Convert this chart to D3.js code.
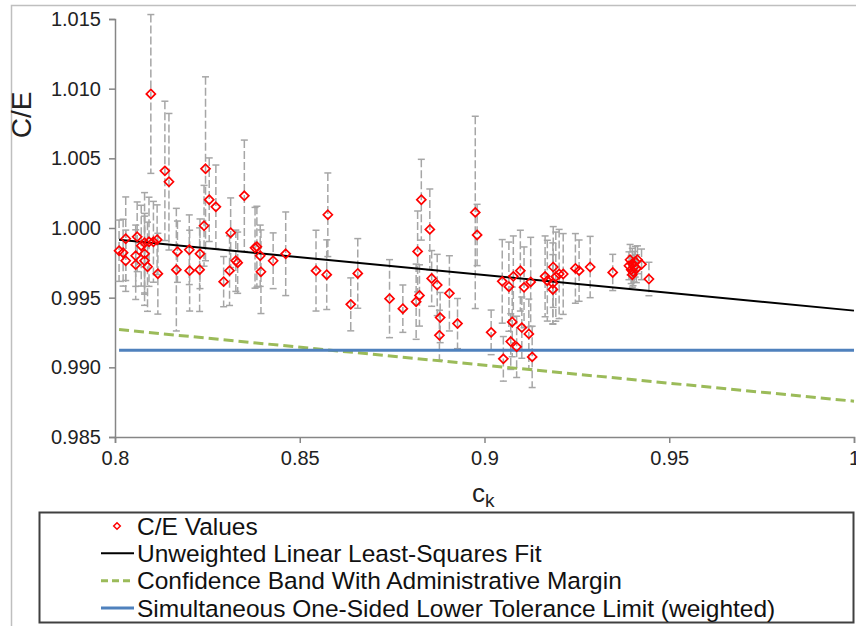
<!DOCTYPE html>
<html>
<head>
<meta charset="utf-8">
<script src="https://cdn.jsdelivr.net/npm/d3@7"></script>
<style>
  body { margin: 0; background: #fff; }
  svg { display: block; font-family: "Liberation Sans", Arial, sans-serif; }
</style>
</head>
<body>
<div id="chart"></div>
<script>
// data
const ckValues = [
  0.8011, 0.8022, 0.8029, 0.8029, 0.8056, 0.8056, 0.8060, 0.8071, 0.8080, 0.8080,
  0.8080, 0.8088, 0.8092, 0.8097, 0.8104, 0.8114, 0.8116, 0.8135, 0.8146, 0.8169,
  0.8166, 0.8201, 0.8202, 0.8229, 0.8230, 0.8241, 0.8245, 0.8255, 0.8273, 0.8294,
  0.8310, 0.8313, 0.8327, 0.8332, 0.8350, 0.8379, 0.8384, 0.8393, 0.8395, 0.8428,
  0.8462, 0.8544, 0.8576, 0.8573, 0.8638, 0.8657, 0.8743, 0.8779, 0.8815, 0.8824,
  0.8819, 0.8829, 0.8852, 0.8857, 0.8872, 0.8880, 0.8878, 0.8905, 0.8927, 0.8975,
  0.8980, 0.9018, 0.9048, 0.9051, 0.9066, 0.9071, 0.9075, 0.9078, 0.9087, 0.9097,
  0.9101, 0.9107, 0.9120, 0.9125, 0.9129, 0.9164, 0.9170, 0.9186, 0.9185, 0.9185,
  0.9193, 0.9202, 0.9213, 0.9246, 0.9256, 0.9286, 0.9347, 0.9394, 0.9400, 0.9405,
  0.9397, 0.9402, 0.9408, 0.9391, 0.9400, 0.9411, 0.9414, 0.9425, 0.9445
];
const ceValues = [
  0.99837, 0.99823, 0.99923, 0.99765, 0.99801, 0.99737, 0.99937, 0.99873, 0.99894, 0.99815,
  0.99765, 0.99722, 0.99901, 1.00962, 0.99901, 0.99916, 0.99672, 1.00410, 1.00332, 0.99830,
  0.99701, 0.99844, 0.99694, 0.99701, 0.99815, 1.00016, 1.00425, 1.00203, 1.00152, 0.99615,
  0.99694, 0.99966, 0.99765, 0.99751, 1.00231, 0.99858, 0.99866, 0.99801, 0.99686, 0.99765,
  0.99815, 0.99694, 1.00095, 0.99665, 0.99452, 0.99674, 0.99493, 0.99421, 0.99471, 0.99516,
  0.99832, 1.00203, 0.99990, 0.99638, 0.99591, 0.99357, 0.99230, 0.99531, 0.99314, 1.00112,
  0.99950, 0.99251, 0.99617, 0.99061, 0.99579, 0.99185, 0.99326, 0.99653, 0.99147, 0.99694,
  0.99285, 0.99574, 0.99240, 0.99613, 0.99075, 0.99653, 0.99622, 0.99720, 0.99603, 0.99559,
  0.99651, 0.99670, 0.99670, 0.99710, 0.99694, 0.99720, 0.99681, 0.99772, 0.99744, 0.99722,
  0.99701, 0.99686, 0.99758, 0.99729, 0.99665, 0.99708, 0.99772, 0.99739, 0.99634
];
const ceErrors = [
  0.0022, 0.0024, 0.0030, 0.0022, 0.0022, 0.0025, 0.0025, 0.0029, 0.0036, 0.0029,
  0.0032, 0.0032, 0.0032, 0.0057, 0.0029, 0.0025, 0.0029, 0.0050, 0.0049, 0.0022,
  0.0044, 0.0025, 0.0029, 0.0030, 0.0025, 0.0029, 0.0066, 0.0030, 0.0030, 0.0018,
  0.0025, 0.0025, 0.0022, 0.0022, 0.0040, 0.0029, 0.0029, 0.0022, 0.0030, 0.0020,
  0.0030, 0.0029, 0.0030, 0.0025, 0.0019, 0.0025, 0.0028, 0.0017, 0.0027, 0.0022,
  0.0029, 0.0029, 0.0029, 0.0020, 0.0022, 0.0018, 0.0018, 0.0027, 0.0018, 0.0069,
  0.0022, 0.0016, 0.0030, 0.0016, 0.0032, 0.0020, 0.0025, 0.0029, 0.0022, 0.0029,
  0.0022, 0.0029, 0.0025, 0.0032, 0.0022, 0.0029, 0.0029, 0.0029, 0.0029, 0.0025,
  0.0032, 0.0032, 0.0029, 0.0025, 0.0022, 0.0022, 0.0013, 0.0011, 0.0011, 0.0011,
  0.0010, 0.0010, 0.0011, 0.0010, 0.0009, 0.0010, 0.0010, 0.0011, 0.0012
];

// fitted lines: [ck, C/E] end points
const fitLine = [[0.8011, 0.99915], [1.0, 0.99407]];
const bandLine = [[0.8011, 0.99271], [1.0, 0.98757]];
const tolLine = [[0.8011, 0.99122], [1.0, 0.99122]];

const xTicks = [0.8, 0.85, 0.9, 0.95, 1];
const yTicks = [0.985, 0.99, 0.995, 1.0, 1.005, 1.01, 1.015];
const legendLabels = [
  'C/E Values',
  'Unweighted Linear Least-Squares Fit',
  'Confidence Band With Administrative Margin',
  'Simultaneous One-Sided Lower Tolerance Limit (weighted)'
];

const width = 856;
const height = 626;
const margin = { top: 19, left: 115, right: 2, bottom: 189 };
const axisGray = '#868686';
const red = '#FF0000';
const green = '#9BBB59';
const blue = '#4F81BD';

const svg = d3.select('#chart').append('svg')
  .attr('width', width)
  .attr('height', height);

// outer chart frame
svg.append('rect')
  .attr('x', 11.5).attr('y', 5.5)
  .attr('width', 900).attr('height', 700)
  .attr('fill', 'none')
  .attr('stroke', '#BFBFBF')
  .attr('stroke-width', 1.5);

const x = d3.scaleLinear().domain([0.8, 1]).range([margin.left, width - margin.right]);
const y = d3.scaleLinear().domain([0.985, 1.015]).range([height - margin.bottom, margin.top]);

// axes
const xAxis = svg.append('g')
  .attr('transform', `translate(0,${y(0.985)})`)
  .call(d3.axisBottom(x).tickValues(xTicks).tickSize(6).tickPadding(8).tickFormat(d => d3.format('')(d)));
const yAxis = svg.append('g')
  .attr('transform', `translate(${x(0.8)},0)`)
  .call(d3.axisLeft(y).tickValues(yTicks).tickSize(6).tickPadding(8).tickFormat(d3.format('.3f')));

[xAxis, yAxis].forEach(g => {
  g.select('.domain').attr('stroke', axisGray).attr('stroke-width', 1.5);
  g.selectAll('.tick line').attr('stroke', axisGray).attr('stroke-width', 1.5);
  g.selectAll('.tick text')
    .attr('fill', '#222')
    .style('font-size', '20px')
    .style('font-family', '"Liberation Sans", Arial, sans-serif');
});

// axis titles
svg.append('text')
  .attr('transform', `translate(31,115) rotate(-90)`)
  .attr('text-anchor', 'middle')
  .style('font-size', '28px')
  .attr('fill', '#222')
  .text('C/E');

const xTitle = svg.append('text')
  .attr('x', 472)
  .attr('y', 502)
  .style('font-size', '26px')
  .attr('fill', '#222');
xTitle.append('tspan').text('c');
xTitle.append('tspan').attr('dy', 5).style('font-size', '19px').text('k');

const points = ckValues.map((d, i) => ({ ck: d, ce: ceValues[i], err: ceErrors[i] }));

// error bars
const bars = svg.append('g').selectAll('g')
  .data(points)
  .enter().append('g')
  .attr('stroke', '#A6A6A6')
  .attr('stroke-width', 1.5);

bars.append('line')
  .attr('x1', d => x(d.ck)).attr('x2', d => x(d.ck))
  .attr('y1', d => y(d.ce + d.err)).attr('y2', d => y(d.ce - d.err))
  .attr('stroke-dasharray', '8,3');
bars.append('line')
  .attr('x1', d => x(d.ck) - 3.5).attr('x2', d => x(d.ck) + 3.5)
  .attr('y1', d => y(d.ce + d.err)).attr('y2', d => y(d.ce + d.err));
bars.append('line')
  .attr('x1', d => x(d.ck) - 3.5).attr('x2', d => x(d.ck) + 3.5)
  .attr('y1', d => y(d.ce - d.err)).attr('y2', d => y(d.ce - d.err));

// lines
const line = d3.line().x(d => x(d[0])).y(d => y(d[1]));

svg.append('path')
  .attr('d', line(bandLine))
  .attr('fill', 'none')
  .attr('stroke', green)
  .attr('stroke-width', 3)
  .attr('stroke-dasharray', '10,5');

svg.append('path')
  .attr('d', line(tolLine))
  .attr('fill', 'none')
  .attr('stroke', blue)
  .attr('stroke-width', 3);

svg.append('path')
  .attr('d', line(fitLine))
  .attr('fill', 'none')
  .attr('stroke', '#000')
  .attr('stroke-width', 2);

// markers
const diamond = d3.symbol().type(d3.symbolDiamond2).size(52);
svg.append('g').selectAll('path')
  .data(points)
  .enter().append('path')
  .attr('d', diamond)
  .attr('transform', d => `translate(${x(d.ck)},${y(d.ce)})`)
  .attr('fill', 'none')
  .attr('stroke', red)
  .attr('stroke-width', 1.7);

// legend
const legend = svg.append('g');
legend.append('rect')
  .attr('x', 39.5).attr('y', 512.5)
  .attr('width', 814).attr('height', 110)
  .attr('fill', '#fff')
  .attr('stroke', '#404040')
  .attr('stroke-width', 2);

const rowY = d3.scalePoint().domain(legendLabels).range([526, 608]);

legend.append('path')
  .attr('d', d3.symbol().type(d3.symbolDiamond2).size(28))
  .attr('transform', `translate(117,${rowY(legendLabels[0])})`)
  .attr('fill', 'none')
  .attr('stroke', red)
  .attr('stroke-width', 1.5);

const legendLines = [
  { label: legendLabels[1], color: '#000', w: 2, dash: null },
  { label: legendLabels[2], color: green, w: 3, dash: '7,4' },
  { label: legendLabels[3], color: blue, w: 3, dash: null }
];
legendLines.forEach(l => {
  legend.append('line')
    .attr('x1', 101).attr('x2', 134)
    .attr('y1', rowY(l.label)).attr('y2', rowY(l.label))
    .attr('stroke', l.color)
    .attr('stroke-width', l.w)
    .attr('stroke-dasharray', l.dash);
});

legend.selectAll('text.lbl')
  .data(legendLabels)
  .enter().append('text')
  .attr('class', 'lbl')
  .attr('x', 137)
  .attr('y', d => rowY(d) + 8.5)
  .style('font-size', '24.5px')
  .attr('fill', '#111')
  .text(d => d);
</script>
</body>
</html>
